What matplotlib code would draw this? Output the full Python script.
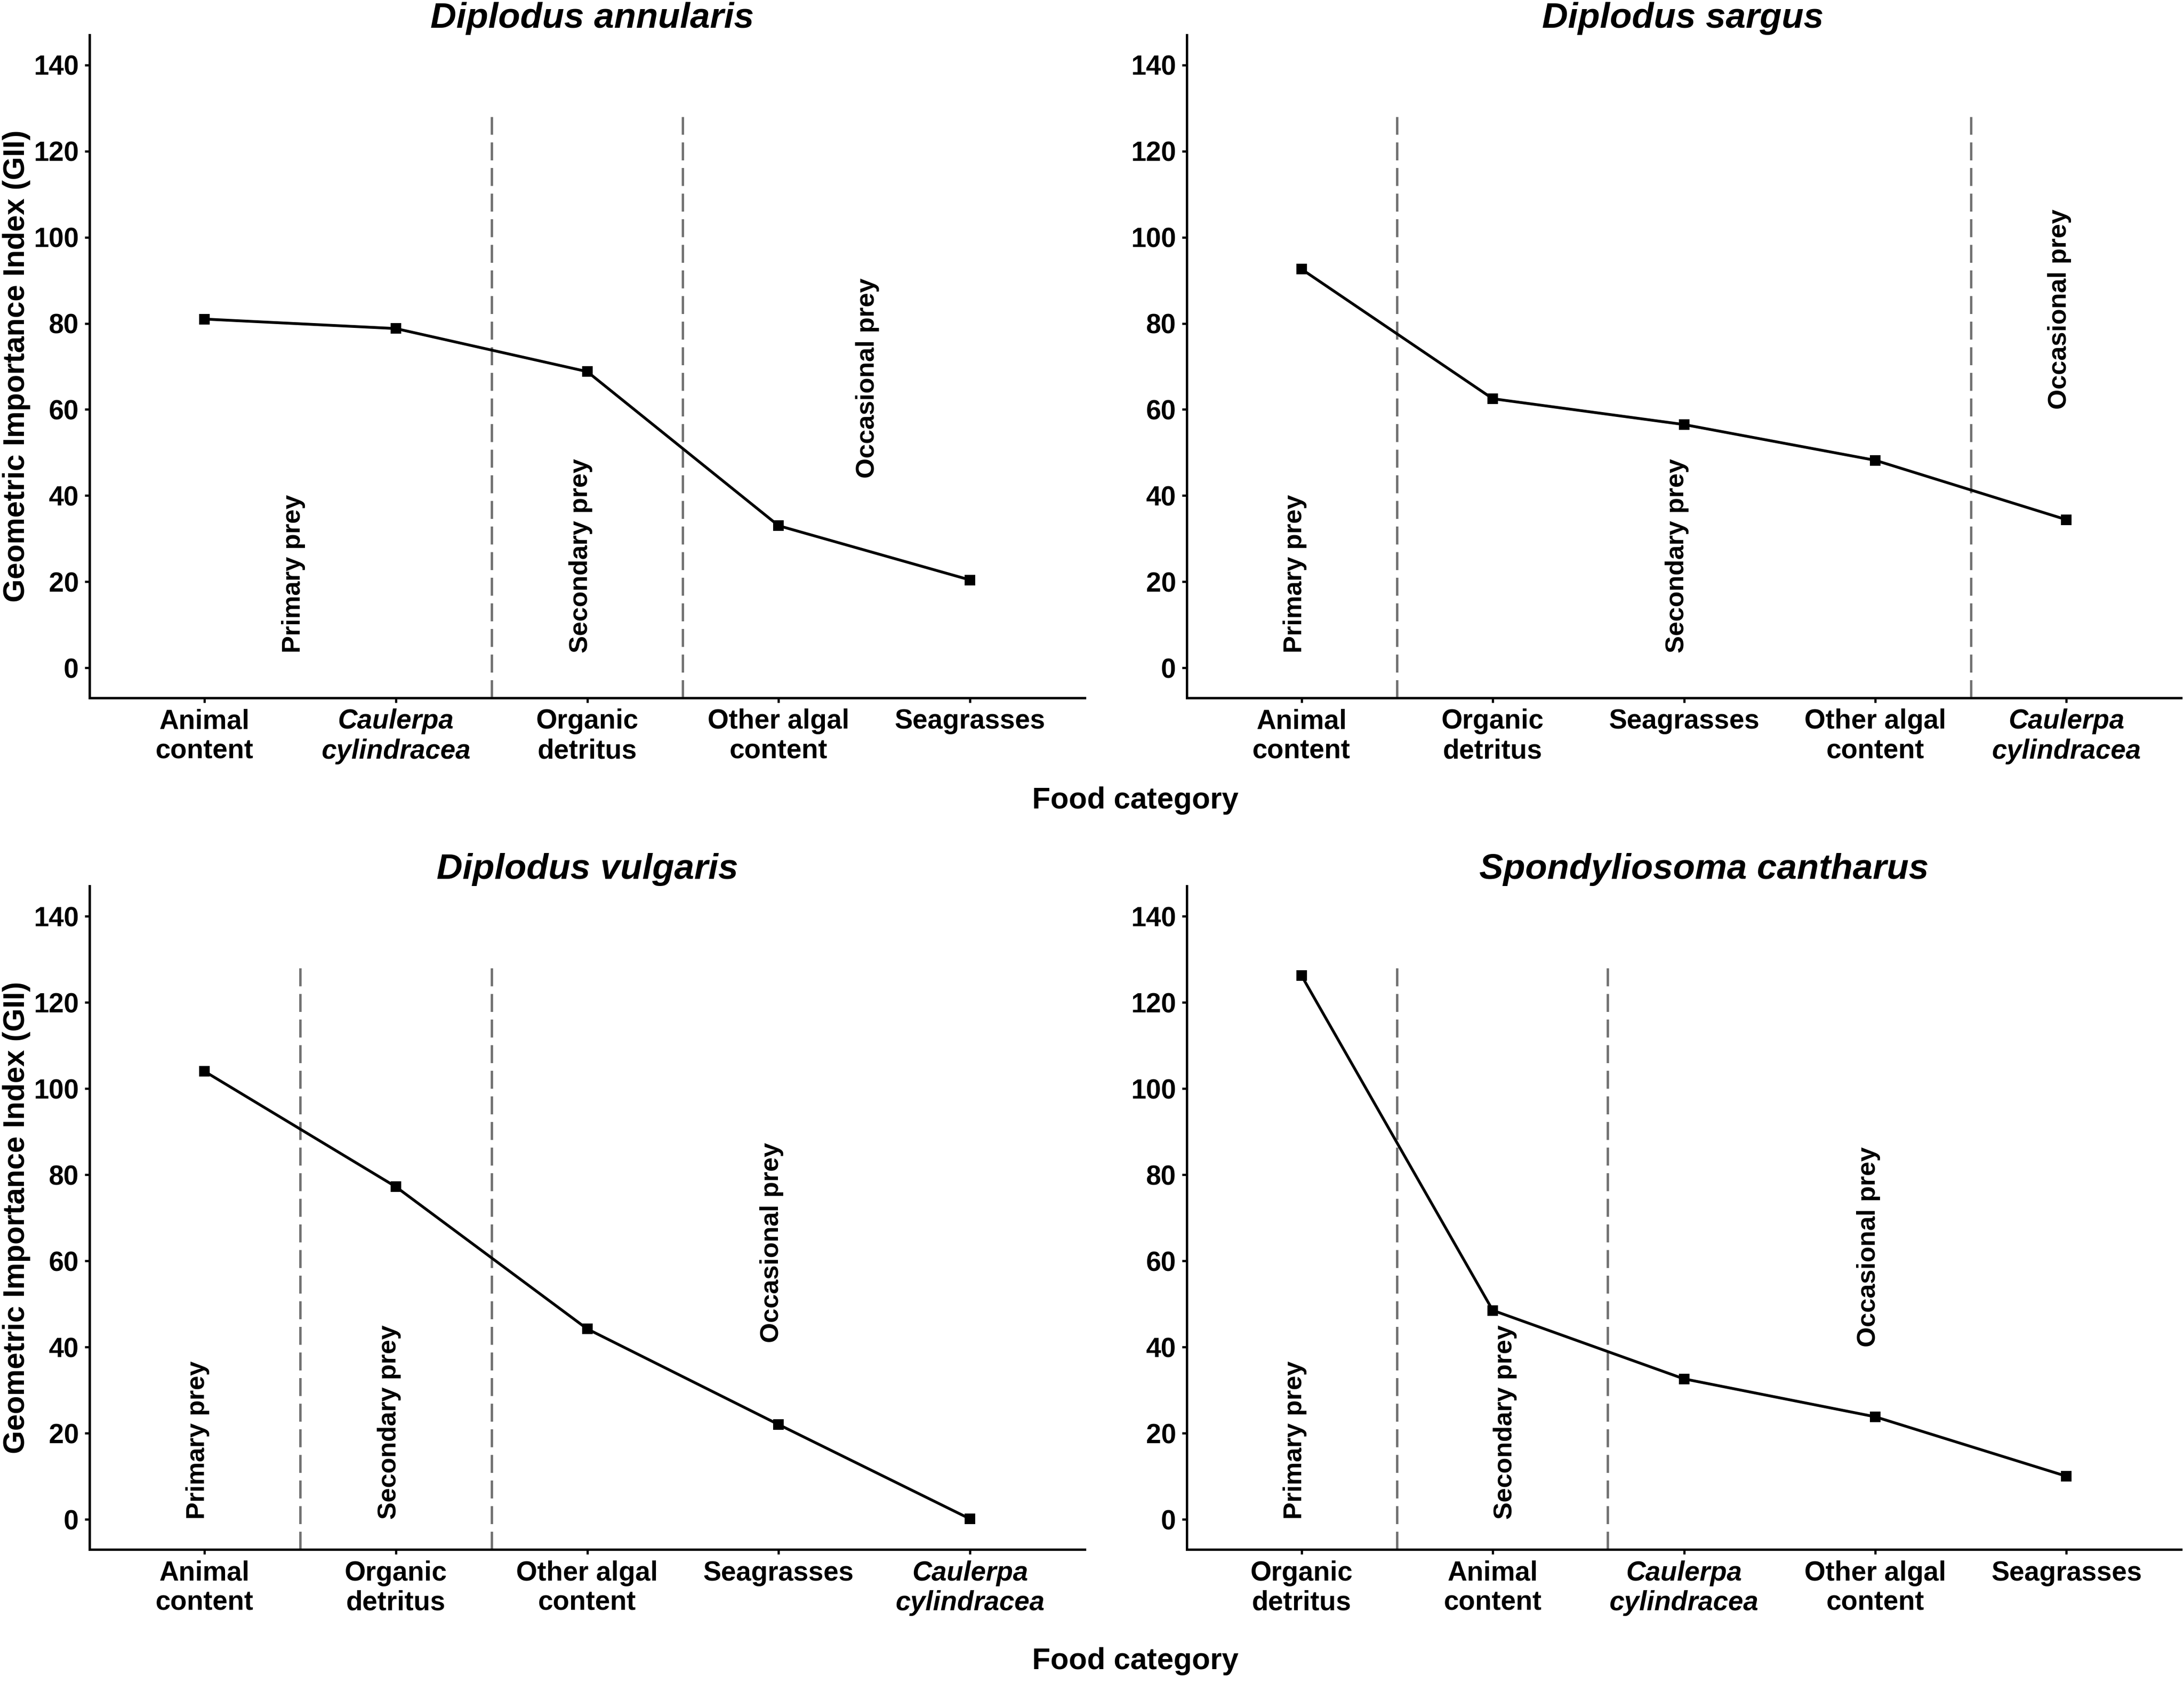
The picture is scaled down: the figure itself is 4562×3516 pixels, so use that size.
import matplotlib.pyplot as plt

plt.rcParams["font.family"] = ["Liberation Sans", "DejaVu Sans"]
plt.rcParams["font.weight"] = "bold"

# Data: Geometric Importance Index per food category, ordered as plotted
species = ["Diplodus annularis", "Diplodus sargus",
           "Diplodus vulgaris", "Spondyliosoma cantharus"]

cats_annularis = ["Animal\ncontent", "Caulerpa\ncylindracea", "Organic\ndetritus",
                  "Other algal\ncontent", "Seagrasses"]
gii_annularis = [81.0, 78.8, 68.8, 33.0, 20.4]

cats_sargus = ["Animal\ncontent", "Organic\ndetritus", "Seagrasses",
               "Other algal\ncontent", "Caulerpa\ncylindracea"]
gii_sargus = [92.6, 62.5, 56.5, 48.2, 34.4]

cats_vulgaris = ["Animal\ncontent", "Organic\ndetritus", "Other algal\ncontent",
                 "Seagrasses", "Caulerpa\ncylindracea"]
gii_vulgaris = [104.0, 77.2, 44.2, 22.0, 0.1]

cats_cantharus = ["Organic\ndetritus", "Animal\ncontent", "Caulerpa\ncylindracea",
                  "Other algal\ncontent", "Seagrasses"]
gii_cantharus = [126.2, 48.5, 32.6, 23.8, 10.0]

# prey class boundaries (between categories)
breaks_annularis = [2.5, 3.5]
breaks_sargus = [1.5, 4.5]
breaks_vulgaris = [1.5, 2.5]
breaks_cantharus = [1.5, 2.6]

prey_labels = ["Primary prey", "Secondary prey", "Occasional prey"]
labx_annularis = [1.5, 3.0, 4.5]
laby_annularis = [3.5, 3.5, 44]
labx_sargus = [1.0, 3.0, 5.0]
laby_sargus = [3.5, 3.5, 60]
labx_vulgaris = [1.0, 2.0, 4.0]
laby_vulgaris = [0, 0, 41]
labx_cantharus = [1.0, 2.1, 4.0]
laby_cantharus = [0, 0, 40]

panels = [
    (cats_annularis, gii_annularis, breaks_annularis, labx_annularis, laby_annularis),
    (cats_sargus, gii_sargus, breaks_sargus, labx_sargus, laby_sargus),
    (cats_vulgaris, gii_vulgaris, breaks_vulgaris, labx_vulgaris, laby_vulgaris),
    (cats_cantharus, gii_cantharus, breaks_cantharus, labx_cantharus, laby_cantharus),
]

W, H = 4562, 3516
fig = plt.figure(figsize=(W / 300, H / 300), dpi=300)

# axes boxes in pixels: left, top, right, bottom
boxes = [(187, 73, 2266, 1458), (2479, 73, 4556, 1458),
         (187, 1851, 2266, 3237), (2479, 1851, 4556, 3237)]
title_x = [0.505, 0.499, 0.5, 0.52]

for i, (cats, vals, brks, lx, ly) in enumerate(panels):
    l, t, r, b = boxes[i]
    ax = fig.add_axes([l / W, 1 - b / H, (r - l) / W, (b - t) / H])
    xs = list(range(1, len(cats) + 1))

    for bx in brks:
        ax.plot([bx, bx], [-7, 128], color="#737373", lw=1.2,
                linestyle=(0, (7.5, 3.2)), zorder=1)

    ax.plot(xs, vals, color="black", lw=1.4, marker="s", ms=4.3, zorder=3)

    for s, x, y in zip(prey_labels, lx, ly):
        ax.text(x, y, s, rotation=90, rotation_mode="anchor", ha="left",
                va="baseline", fontsize=13, fontweight="bold")

    ax.set_xlim(0.4, 5.6)
    ax.set_ylim(-7, 147)
    ax.set_yticks(range(0, 141, 20))
    ax.set_xticks(xs)
    ax.set_xticklabels(cats)
    for lbl in ax.get_xticklabels():
        if "Caulerpa" in lbl.get_text():
            lbl.set_fontstyle("italic")

    for side in ["top", "right"]:
        ax.spines[side].set_visible(False)
    for side in ["left", "bottom"]:
        ax.spines[side].set_linewidth(1.2)
    ax.tick_params(length=2.4, width=1.1, pad=3, labelsize=13.6)

    ax.set_title(species[i], fontsize=18, fontweight="bold", fontstyle="italic",
                 pad=3, x=title_x[i])

# shared axis titles
for yc in [765, 2544]:
    fig.text(35 / W, 1 - yc / H, "Geometric Importance Index (GII)", rotation=90,
             ha="center", va="center", fontsize=15, fontweight="bold")
for yc in [1673, 3470]:
    fig.text(2371 / W, 1 - yc / H, "Food category", ha="center", va="center",
             fontsize=15, fontweight="bold")

fig.savefig("out.png", dpi=300)
